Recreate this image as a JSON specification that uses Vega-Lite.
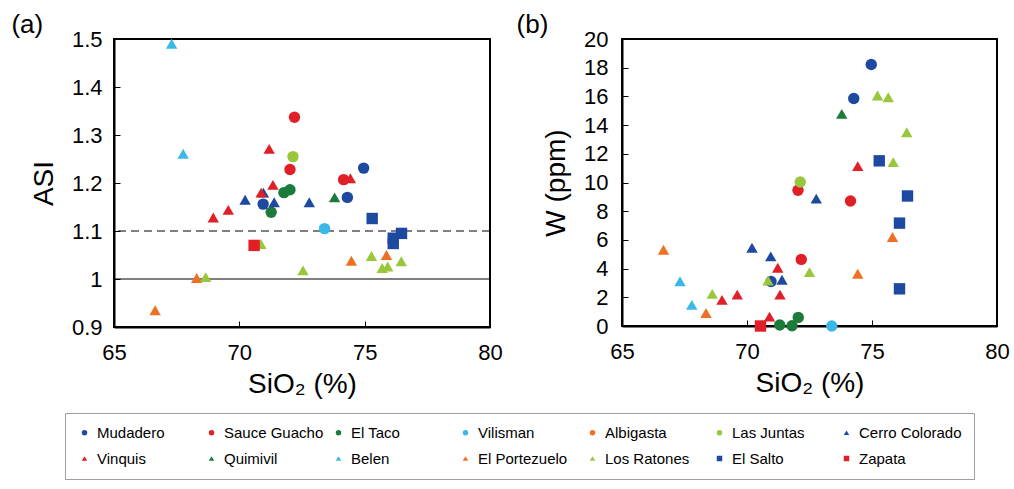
{
  "$schema": "https://vega.github.io/schema/vega-lite/v6.json",
  "background": "white",
  "padding": {"left": 10, "top": 11, "right": 0, "bottom": 0},
  "config": {
    "font": "Liberation Sans",
    "view": {"stroke": "black", "strokeWidth": 2},
    "axis": {
      "grid": false,
      "domainColor": "black",
      "domainWidth": 2,
      "tickColor": "black",
      "tickWidth": 1,
      "tickSize": -6,
      "labelFontSize": 22,
      "labelColor": "black",
      "labelPadding": 18,
      "titleFontSize": 28,
      "titleFontWeight": "normal",
      "titleColor": "black"
    },
    "axisX": {"labelPadding": 21, "titlePadding": 7, "labelFlush": false},
    "axisY": {"labelFlush": false},
    "legend": {
      "orient": "none",
      "legendX": -49,
      "legendY": 374,
      "direction": "horizontal",
      "columns": 7,
      "gridAlign": "all",
      "symbolSize": 30,
      "symbolStrokeWidth": 0,
      "labelFontSize": 15,
      "labelColor": "black",
      "labelLimit": 200,
      "labelOffset": 5,
      "columnPadding": 4,
      "rowPadding": 10,
      "strokeColor": "#a0a0a0",
      "fillColor": "white",
      "padding": 12
    }
  },
  "datasets": {
    "a": [
      {"Location": "Mudadero", "SiO2": 74.96, "ASI": 1.231},
      {"Location": "Mudadero", "SiO2": 70.95, "ASI": 1.156},
      {"Location": "Mudadero", "SiO2": 74.31, "ASI": 1.170},
      {"Location": "Sauce Guacho", "SiO2": 72.2, "ASI": 1.337},
      {"Location": "Sauce Guacho", "SiO2": 72.02, "ASI": 1.228},
      {"Location": "Sauce Guacho", "SiO2": 74.16, "ASI": 1.207},
      {"Location": "El Taco", "SiO2": 71.78, "ASI": 1.18},
      {"Location": "El Taco", "SiO2": 72.02, "ASI": 1.186},
      {"Location": "El Taco", "SiO2": 71.27, "ASI": 1.139},
      {"Location": "Vilisman", "SiO2": 73.4, "ASI": 1.105},
      {"Location": "Las Juntas", "SiO2": 72.14, "ASI": 1.255},
      {"Location": "Cerro Colorado", "SiO2": 70.96, "ASI": 1.18},
      {"Location": "Cerro Colorado", "SiO2": 70.23, "ASI": 1.165},
      {"Location": "Cerro Colorado", "SiO2": 71.39, "ASI": 1.16},
      {"Location": "Cerro Colorado", "SiO2": 72.79, "ASI": 1.16},
      {"Location": "Vinquis", "SiO2": 71.19, "ASI": 1.271},
      {"Location": "Vinquis", "SiO2": 74.43, "ASI": 1.21},
      {"Location": "Vinquis", "SiO2": 71.34, "ASI": 1.196},
      {"Location": "Vinquis", "SiO2": 70.87, "ASI": 1.18},
      {"Location": "Vinquis", "SiO2": 69.56, "ASI": 1.144},
      {"Location": "Vinquis", "SiO2": 68.96, "ASI": 1.128},
      {"Location": "Quimivil", "SiO2": 73.8, "ASI": 1.170},
      {"Location": "Belen", "SiO2": 67.3, "ASI": 1.49},
      {"Location": "Belen", "SiO2": 67.76, "ASI": 1.261},
      {"Location": "El Portezuelo", "SiO2": 74.47, "ASI": 1.038},
      {"Location": "El Portezuelo", "SiO2": 75.87, "ASI": 1.05},
      {"Location": "El Portezuelo", "SiO2": 66.64, "ASI": 0.935},
      {"Location": "El Portezuelo", "SiO2": 68.3, "ASI": 1.002},
      {"Location": "Los Ratones", "SiO2": 75.27, "ASI": 1.048},
      {"Location": "Los Ratones", "SiO2": 75.7, "ASI": 1.023},
      {"Location": "Los Ratones", "SiO2": 75.92, "ASI": 1.026},
      {"Location": "Los Ratones", "SiO2": 76.46, "ASI": 1.037},
      {"Location": "Los Ratones", "SiO2": 70.86, "ASI": 1.073},
      {"Location": "Los Ratones", "SiO2": 72.54, "ASI": 1.018},
      {"Location": "Los Ratones", "SiO2": 68.66, "ASI": 1.004},
      {"Location": "El Salto", "SiO2": 75.3, "ASI": 1.126},
      {"Location": "El Salto", "SiO2": 76.47, "ASI": 1.095},
      {"Location": "El Salto", "SiO2": 76.14, "ASI": 1.085},
      {"Location": "El Salto", "SiO2": 76.14, "ASI": 1.074},
      {"Location": "Zapata", "SiO2": 70.59, "ASI": 1.07}
    ],
    "b": [
      {"Location": "Mudadero", "SiO2": 74.97, "W": 18.22},
      {"Location": "Mudadero", "SiO2": 74.27, "W": 15.85},
      {"Location": "Mudadero", "SiO2": 70.96, "W": 3.1},
      {"Location": "Sauce Guacho", "SiO2": 72.04, "W": 9.46},
      {"Location": "Sauce Guacho", "SiO2": 74.14, "W": 8.71},
      {"Location": "Sauce Guacho", "SiO2": 72.17, "W": 4.64},
      {"Location": "El Taco", "SiO2": 72.05, "W": 0.6},
      {"Location": "El Taco", "SiO2": 71.31, "W": 0.07},
      {"Location": "El Taco", "SiO2": 71.8, "W": 0.02},
      {"Location": "Vilisman", "SiO2": 73.39, "W": 0},
      {"Location": "Las Juntas", "SiO2": 72.13, "W": 10.04},
      {"Location": "Cerro Colorado", "SiO2": 72.77, "W": 8.88},
      {"Location": "Cerro Colorado", "SiO2": 70.2, "W": 5.45},
      {"Location": "Cerro Colorado", "SiO2": 70.95, "W": 4.85},
      {"Location": "Cerro Colorado", "SiO2": 71.4, "W": 3.22},
      {"Location": "Vinquis", "SiO2": 74.43, "W": 11.14},
      {"Location": "Vinquis", "SiO2": 71.23, "W": 4.06},
      {"Location": "Vinquis", "SiO2": 71.32, "W": 2.19},
      {"Location": "Vinquis", "SiO2": 70.9, "W": 0.65},
      {"Location": "Vinquis", "SiO2": 69.0, "W": 1.82},
      {"Location": "Vinquis", "SiO2": 69.61, "W": 2.19},
      {"Location": "Quimivil", "SiO2": 73.79, "W": 14.78},
      {"Location": "Belen", "SiO2": 67.32, "W": 3.12},
      {"Location": "Belen", "SiO2": 67.79, "W": 1.47},
      {"Location": "El Portezuelo", "SiO2": 75.82, "W": 6.2},
      {"Location": "El Portezuelo", "SiO2": 74.43, "W": 3.64},
      {"Location": "El Portezuelo", "SiO2": 66.66, "W": 5.31},
      {"Location": "El Portezuelo", "SiO2": 68.36, "W": 0.91},
      {"Location": "Los Ratones", "SiO2": 75.22, "W": 16.06},
      {"Location": "Los Ratones", "SiO2": 75.65, "W": 15.94},
      {"Location": "Los Ratones", "SiO2": 76.39, "W": 13.5},
      {"Location": "Los Ratones", "SiO2": 75.85, "W": 11.42},
      {"Location": "Los Ratones", "SiO2": 72.5, "W": 3.75},
      {"Location": "Los Ratones", "SiO2": 70.84, "W": 3.17},
      {"Location": "Los Ratones", "SiO2": 68.61, "W": 2.24},
      {"Location": "El Salto", "SiO2": 75.29, "W": 11.51},
      {"Location": "El Salto", "SiO2": 76.42, "W": 9.06},
      {"Location": "El Salto", "SiO2": 76.1, "W": 7.17},
      {"Location": "El Salto", "SiO2": 76.1, "W": 2.59},
      {"Location": "Zapata", "SiO2": 70.54, "W": 0}
    ]
  },
  "spacing": 11,
  "hconcat": [
    {
      "width": 376,
      "height": 288,
      "title": {"text": "(a)", "anchor": "start", "frame": "bounds", "fontSize": 26, "fontWeight": "normal", "color": "black", "dx": -19, "offset": -10},
      "layer": [
        {
          "data": {"values": [{"ASI": 1.1}]},
          "mark": {"type": "rule", "color": "black", "strokeWidth": 1.2, "strokeDash": [8, 5]},
          "encoding": {"y": {"field": "ASI", "type": "quantitative"}}
        },
        {
          "data": {"values": [{"ASI": 1.0}]},
          "mark": {"type": "rule", "color": "black", "strokeWidth": 1.2},
          "encoding": {"y": {"field": "ASI", "type": "quantitative"}}
        },
        {
          "data": {"name": "a"},
          "mark": {"type": "point", "filled": true, "size": 130, "opacity": 1},
          "encoding": {
            "x": {"field": "SiO2", "type": "quantitative", "scale": {"domain": [65, 80], "nice": false, "zero": false}, "axis": {"values": [65, 70, 75, 80], "title": "SiO₂ (%)"}},
            "y": {"field": "ASI", "type": "quantitative", "scale": {"domain": [0.9, 1.5], "nice": false, "zero": false}, "axis": {"values": [0.9, 1.0, 1.1, 1.2, 1.3, 1.4, 1.5], "format": "~g", "title": "ASI", "titlePadding": 13}},
            "color": {"field": "Location", "type": "nominal", "title": null,
              "scale": {"domain": ["Mudadero", "Sauce Guacho", "El Taco", "Vilisman", "Albigasta", "Las Juntas", "Cerro Colorado", "Vinquis", "Quimivil", "Belen", "El Portezuelo", "Los Ratones", "El Salto", "Zapata"],
                "range": ["#1d4aa0", "#e11f26", "#1c7a3a", "#3ab8e8", "#ef7022", "#99c73b", "#1d4aa0", "#e11f26", "#1c7a3a", "#3ab8e8", "#ef7022", "#99c73b", "#1d4aa0", "#e11f26"]}},
            "shape": {"field": "Location", "type": "nominal", "title": null,
              "scale": {"domain": ["Mudadero", "Sauce Guacho", "El Taco", "Vilisman", "Albigasta", "Las Juntas", "Cerro Colorado", "Vinquis", "Quimivil", "Belen", "El Portezuelo", "Los Ratones", "El Salto", "Zapata"],
                "range": ["circle", "circle", "circle", "circle", "circle", "circle", "triangle-up", "triangle-up", "triangle-up", "triangle-up", "triangle-up", "triangle-up", "square", "square"]}}
          }
        }
      ]
    },
    {
      "width": 375,
      "height": 287,
      "title": {"text": "(b)", "anchor": "start", "frame": "bounds", "fontSize": 26, "fontWeight": "normal", "color": "black", "dx": -26, "offset": -10},
      "data": {"name": "b"},
      "mark": {"type": "point", "filled": true, "size": 130, "opacity": 1},
      "encoding": {
        "x": {"field": "SiO2", "type": "quantitative", "scale": {"domain": [65, 80], "nice": false, "zero": false}, "axis": {"values": [65, 70, 75, 80], "title": "SiO₂ (%)"}},
        "y": {"field": "W", "type": "quantitative", "scale": {"domain": [0, 20], "nice": false}, "axis": {"values": [0, 2, 4, 6, 8, 10, 12, 14, 16, 18, 20], "title": "W (ppm)", "titlePadding": 13, "labelPadding": 20}},
        "color": {"field": "Location", "type": "nominal", "title": null,
          "scale": {"domain": ["Mudadero", "Sauce Guacho", "El Taco", "Vilisman", "Albigasta", "Las Juntas", "Cerro Colorado", "Vinquis", "Quimivil", "Belen", "El Portezuelo", "Los Ratones", "El Salto", "Zapata"],
            "range": ["#1d4aa0", "#e11f26", "#1c7a3a", "#3ab8e8", "#ef7022", "#99c73b", "#1d4aa0", "#e11f26", "#1c7a3a", "#3ab8e8", "#ef7022", "#99c73b", "#1d4aa0", "#e11f26"]}},
        "shape": {"field": "Location", "type": "nominal", "title": null,
          "scale": {"domain": ["Mudadero", "Sauce Guacho", "El Taco", "Vilisman", "Albigasta", "Las Juntas", "Cerro Colorado", "Vinquis", "Quimivil", "Belen", "El Portezuelo", "Los Ratones", "El Salto", "Zapata"],
            "range": ["circle", "circle", "circle", "circle", "circle", "circle", "triangle-up", "triangle-up", "triangle-up", "triangle-up", "triangle-up", "triangle-up", "square", "square"]}}
      }
    }
  ],
  "resolve": {"scale": {"color": "shared", "shape": "shared"}, "legend": {"color": "shared", "shape": "shared"}}
}
